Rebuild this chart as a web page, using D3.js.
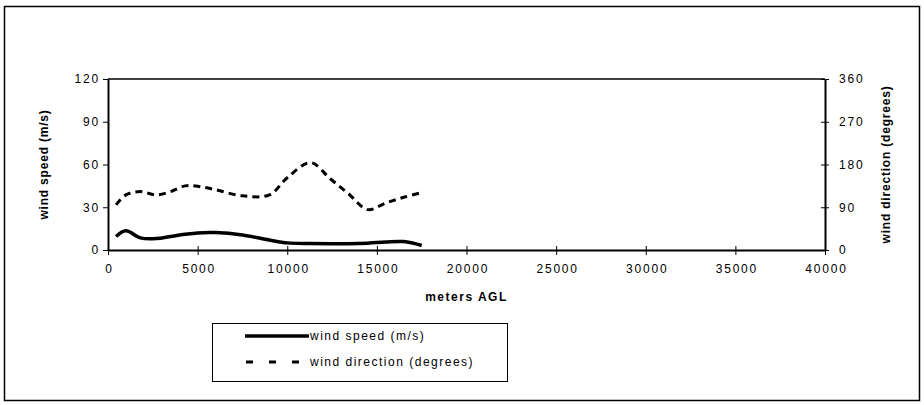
<!DOCTYPE html>
<html>
<head>
<meta charset="utf-8">
<script src="https://cdn.jsdelivr.net/npm/d3@7"></script>
<style>
  body { margin: 0; background: #fff; }
  svg { display: block; font-family: "Liberation Sans", Arial, sans-serif; }
  .tick text { font-size: 12px; fill: #000; letter-spacing: 1.8px; }
</style>
</head>
<body>
<svg id="chart"></svg>
<script>
// data
var altitude = [450, 1000, 1800, 2700, 3500, 4300, 5000, 6000, 7500, 9000, 10000, 11300, 12400, 13400, 14500, 15500, 16500, 17500];
var windSpeed = [9.5, 13.5, 8.5, 8, 9.5, 11, 12, 12.2, 10.5, 7, 5, 4.6, 4.4, 4.4, 4.8, 5.6, 5.9, 3.2];
var windDir = [95, 116, 123, 116, 123, 135, 134, 127, 114, 116, 152, 184, 150, 119, 85, 99, 111, 121];
var xTicks = [0, 5000, 10000, 15000, 20000, 25000, 30000, 35000, 40000];
var speedTicks = [0, 30, 60, 90, 120];
var dirTicks = [0, 90, 180, 270, 360];

function drawChart() {
  var width = 924, height = 405;
  var svg = d3.select('#chart')
    .attr('width', width)
    .attr('height', height);

  // outer frame
  svg.append('rect')
    .attr('x', 4.5).attr('y', 6.5)
    .attr('width', 915).attr('height', 394)
    .attr('fill', 'none')
    .attr('stroke', '#000')
    .attr('stroke-width', 1.5);

  var plotLeft = 108, plotRight = 825, plotTop = 79, plotBottom = 250;

  var x = d3.scaleLinear().domain([0, 40000]).range([plotLeft, plotRight]);
  var yL = d3.scaleLinear().domain([0, 120]).range([plotBottom, plotTop]);
  var yR = d3.scaleLinear().domain([0, 360]).range([plotBottom, plotTop]);

  // plot box top line
  svg.append('line')
    .attr('x1', plotLeft).attr('x2', plotRight)
    .attr('y1', plotTop).attr('y2', plotTop)
    .attr('stroke', '#000').attr('stroke-width', 1.5);

  // x axis (ticks cross the line)
  var xAxis = svg.append('g')
    .attr('transform', 'translate(0,' + plotBottom + ')')
    .call(d3.axisBottom(x).tickValues(xTicks).tickFormat(d3.format('d')).tickSizeInner(5).tickSizeOuter(0).tickPadding(9));
  xAxis.select('.domain').attr('stroke-width', 2);
  xAxis.selectAll('.tick line').attr('y1', -4);
  xAxis.selectAll('.tick text').attr('dx', 1);

  // left axis
  var lAxis = svg.append('g')
    .attr('transform', 'translate(' + plotLeft + ',0)')
    .call(d3.axisLeft(yL).tickValues(speedTicks).tickSizeInner(5).tickSizeOuter(0).tickPadding(3));
  lAxis.select('.domain').attr('stroke-width', 2);

  // right axis
  var rAxis = svg.append('g')
    .attr('transform', 'translate(' + plotRight + ',0)')
    .call(d3.axisRight(yR).tickValues(dirTicks).tickSizeInner(4).tickSizeOuter(0).tickPadding(10));
  rAxis.select('.domain').attr('stroke-width', 2);
  rAxis.selectAll('.tick line').attr('x1', -4);

  svg.selectAll('.tick line').attr('stroke', '#000');
  svg.selectAll('.domain').attr('stroke', '#000');

  // series
  var speedLine = d3.line()
    .x((d, i) => x(altitude[i]))
    .y(d => yL(d))
    .curve(d3.curveCatmullRom);

  var dirLine = d3.line()
    .x((d, i) => x(altitude[i]))
    .y(d => yR(d))
    .curve(d3.curveCatmullRom);

  svg.append('path')
    .datum(windDir)
    .attr('d', dirLine)
    .attr('fill', 'none')
    .attr('stroke', '#000')
    .attr('stroke-width', 3)
    .attr('stroke-dasharray', '7,5');

  svg.append('path')
    .datum(windSpeed)
    .attr('d', speedLine)
    .attr('fill', 'none')
    .attr('stroke', '#000')
    .attr('stroke-width', 3.5);

  // axis titles
  svg.append('text')
    .attr('transform', 'translate(48,' + (plotTop + plotBottom) / 2 + ')rotate(-90)')
    .attr('text-anchor', 'middle')
    .attr('font-size', 12).attr('font-weight', 'bold')
    .attr('letter-spacing', 0.8)
    .text('wind speed (m/s)');

  svg.append('text')
    .attr('transform', 'translate(890,' + (plotTop + plotBottom) / 2 + ')rotate(-90)')
    .attr('text-anchor', 'middle')
    .attr('font-size', 12).attr('font-weight', 'bold')
    .attr('letter-spacing', 0.8)
    .text('wind direction (degrees)');

  svg.append('text')
    .attr('x', (plotLeft + plotRight) / 2).attr('y', 301)
    .attr('text-anchor', 'middle')
    .attr('font-size', 12).attr('font-weight', 'bold')
    .attr('letter-spacing', 1.5)
    .text('meters AGL');

  // legend
  var legend = svg.append('g');
  legend.append('rect')
    .attr('x', 212.5).attr('y', 323.5)
    .attr('width', 295).attr('height', 58)
    .attr('fill', 'none').attr('stroke', '#000').attr('stroke-width', 1);

  legend.append('line')
    .attr('x1', 245).attr('x2', 309).attr('y1', 336).attr('y2', 336)
    .attr('stroke', '#000').attr('stroke-width', 3.5);
  legend.append('text')
    .attr('x', 310).attr('y', 340)
    .attr('font-size', 12)
    .attr('letter-spacing', 1.5)
    .text('wind speed (m/s)');

  legend.append('line')
    .attr('x1', 246).attr('x2', 299).attr('y1', 362).attr('y2', 362)
    .attr('stroke', '#000').attr('stroke-width', 3)
    .attr('stroke-dasharray', '7,16');
  legend.append('text')
    .attr('x', 310).attr('y', 366)
    .attr('font-size', 12)
    .attr('letter-spacing', 1.5)
    .text('wind direction (degrees)');
}

drawChart();
</script>
</body>
</html>
